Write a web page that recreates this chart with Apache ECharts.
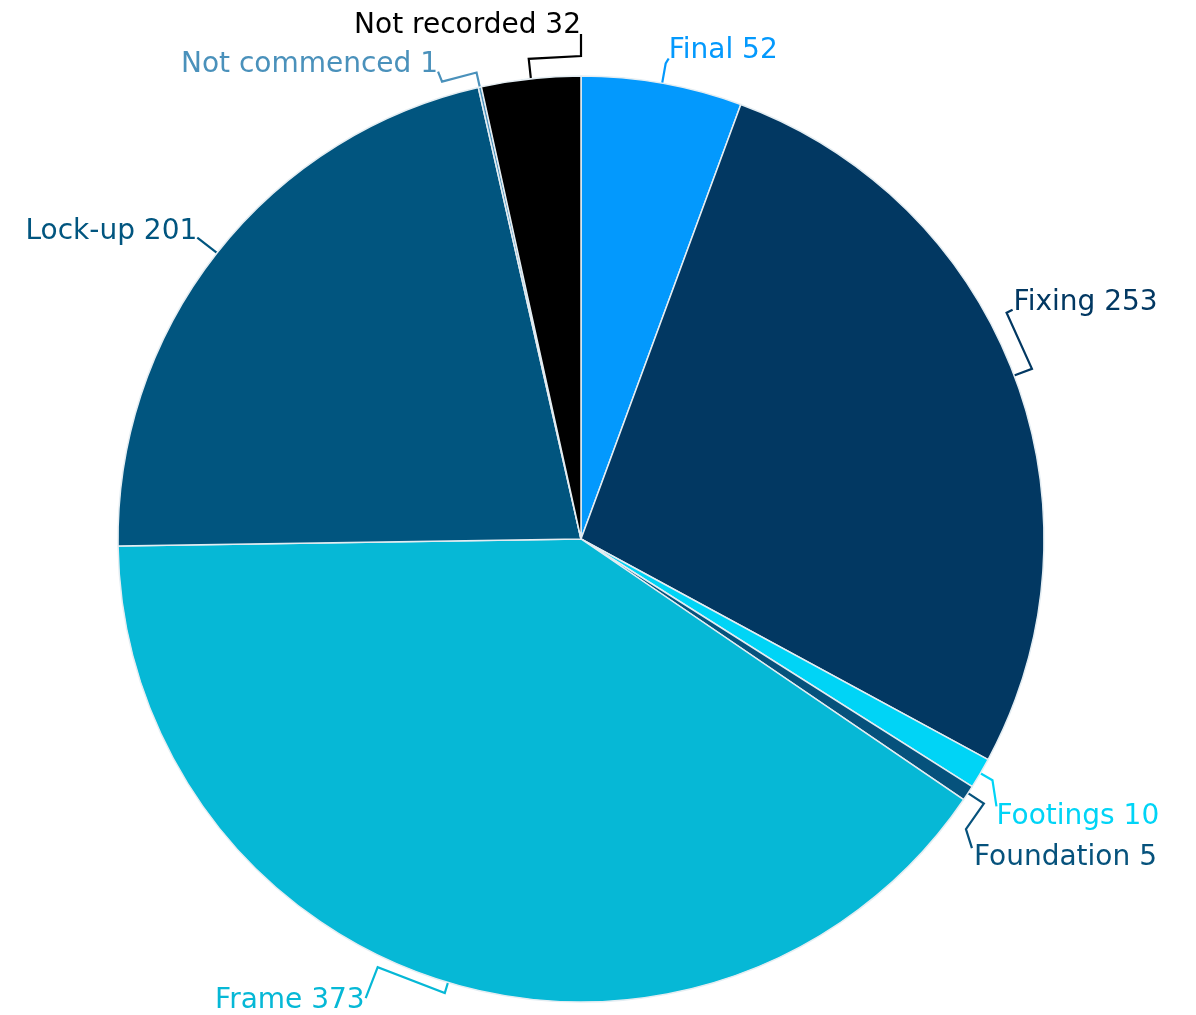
<!DOCTYPE html>
<html>
<head>
<meta charset="utf-8">
<title>Dwellings by construction stage</title>
<script src="https://cdn.jsdelivr.net/npm/echarts@6/dist/echarts.min.js"></script>
<style>
  html, body { margin: 0; padding: 0; background: #ffffff; }
  #chart { width: 1196px; height: 1015px; }
</style>
</head>
<body>
<div id="chart"></div>
<script>
// Construction stage of each dwelling, in drawing order (clockwise from 12 o'clock)
const stages = ['Final', 'Fixing', 'Footings', 'Foundation', 'Frame', 'Lock-up', 'Not commenced', 'Not recorded'];
const counts = [52, 253, 10, 5, 373, 201, 1, 32];
const stageColors = ['#0399fd', '#023862', '#00d4f6', '#06527c', '#06b8d6', '#01557f', '#4a91bb', '#000000'];

// Pie geometry (pixels)
const CX = 581, CY = 539, R = 463;

// Leader line routing for each label:
//   reach – how far the leader runs out past the rim before bending
//   turn  – angle (deg, clockwise from 12 o'clock) the leader follows the rim to, or null
//   tip   – offset of the final leader point from the bend
//   text  – offset of the label anchor from the leader tip
const leaderLayout = {
  'Final':         { reach: 20, turn: null,  tip: [3, -5],   text: [0, -8],  align: 'left' },
  'Fixing':        { reach: 19, turn: 62,    tip: [6, -3],   text: [1, -7],  align: 'left' },
  'Footings':      { reach: 14, turn: null,  tip: [4, 26],   text: [0, 10],  align: 'left' },
  'Foundation':    { reach: 19, turn: 127,   tip: [6, 19],   text: [2, 10],  align: 'left' },
  'Frame':         { reach: 11, turn: 205.4, tip: [-12, 31], text: [-1, 3],  align: 'right' },
  'Lock-up':       { reach: 25, turn: null,  tip: [0, 0],    text: [0, -6],  align: 'right' },
  'Not commenced': { reach: 15, turn: 343.1, tip: [-4, -10], text: [0, -7],  align: 'right' },
  'Not recorded':  { reach: 20, turn: 0,     tip: [0, -22],  text: [0, -8],  align: 'right' }
};

const total = counts.reduce((a, b) => a + b, 0);
const midAngles = [];
{
  let acc = 0;
  counts.forEach(v => { midAngles.push((acc + v / 2) / total * 360); acc += v; });
}

function polar(r, deg) {
  const a = deg * Math.PI / 180;
  return [CX + r * Math.sin(a), CY - r * Math.cos(a)];
}

const pieData = stages.map((name, i) => ({
  name: name,
  value: counts[i],
  itemStyle: { color: stageColors[i] },
  label: { color: stageColors[i] },
  labelLine: { lineStyle: { color: stageColors[i] } }
}));

const chart = echarts.init(document.getElementById('chart'), null, { renderer: 'canvas' });

chart.setOption({
  backgroundColor: '#ffffff',
  animation: false,
  series: [{
    type: 'pie',
    center: [CX, CY],
    radius: R,
    startAngle: 90,
    clockwise: true,
    avoidLabelOverlap: false,
    data: pieData,
    itemStyle: { borderColor: '#e4edf2', borderWidth: 1.5 },
    label: {
      show: true,
      position: 'outside',
      formatter: '{b} {c}',
      fontFamily: 'DejaVu Sans',
      fontSize: 28,
      overflow: 'none'
    },
    labelLine: {
      show: true,
      length: 10,
      length2: 5,
      smooth: false,
      lineStyle: { width: 2.2 }
    },
    labelLayout: function (params) {
      const i = params.dataIndex;
      const cfg = leaderLayout[stages[i]];
      const mid = midAngles[i];
      const p0 = polar(R, mid);
      const p1 = polar(R + cfg.reach, mid);
      const p2 = cfg.turn == null ? p1 : polar(R + cfg.reach, cfg.turn);
      const p3 = [p2[0] + cfg.tip[0], p2[1] + cfg.tip[1]];
      const pts = cfg.turn == null ? [p0, p1, p3] : [p0, p1, p2, p3];
      return {
        x: p3[0] + cfg.text[0],
        y: p3[1] + cfg.text[1],
        align: cfg.align,
        verticalAlign: 'middle',
        labelLinePoints: pts
      };
    }
  }]
});
</script>
</body>
</html>
